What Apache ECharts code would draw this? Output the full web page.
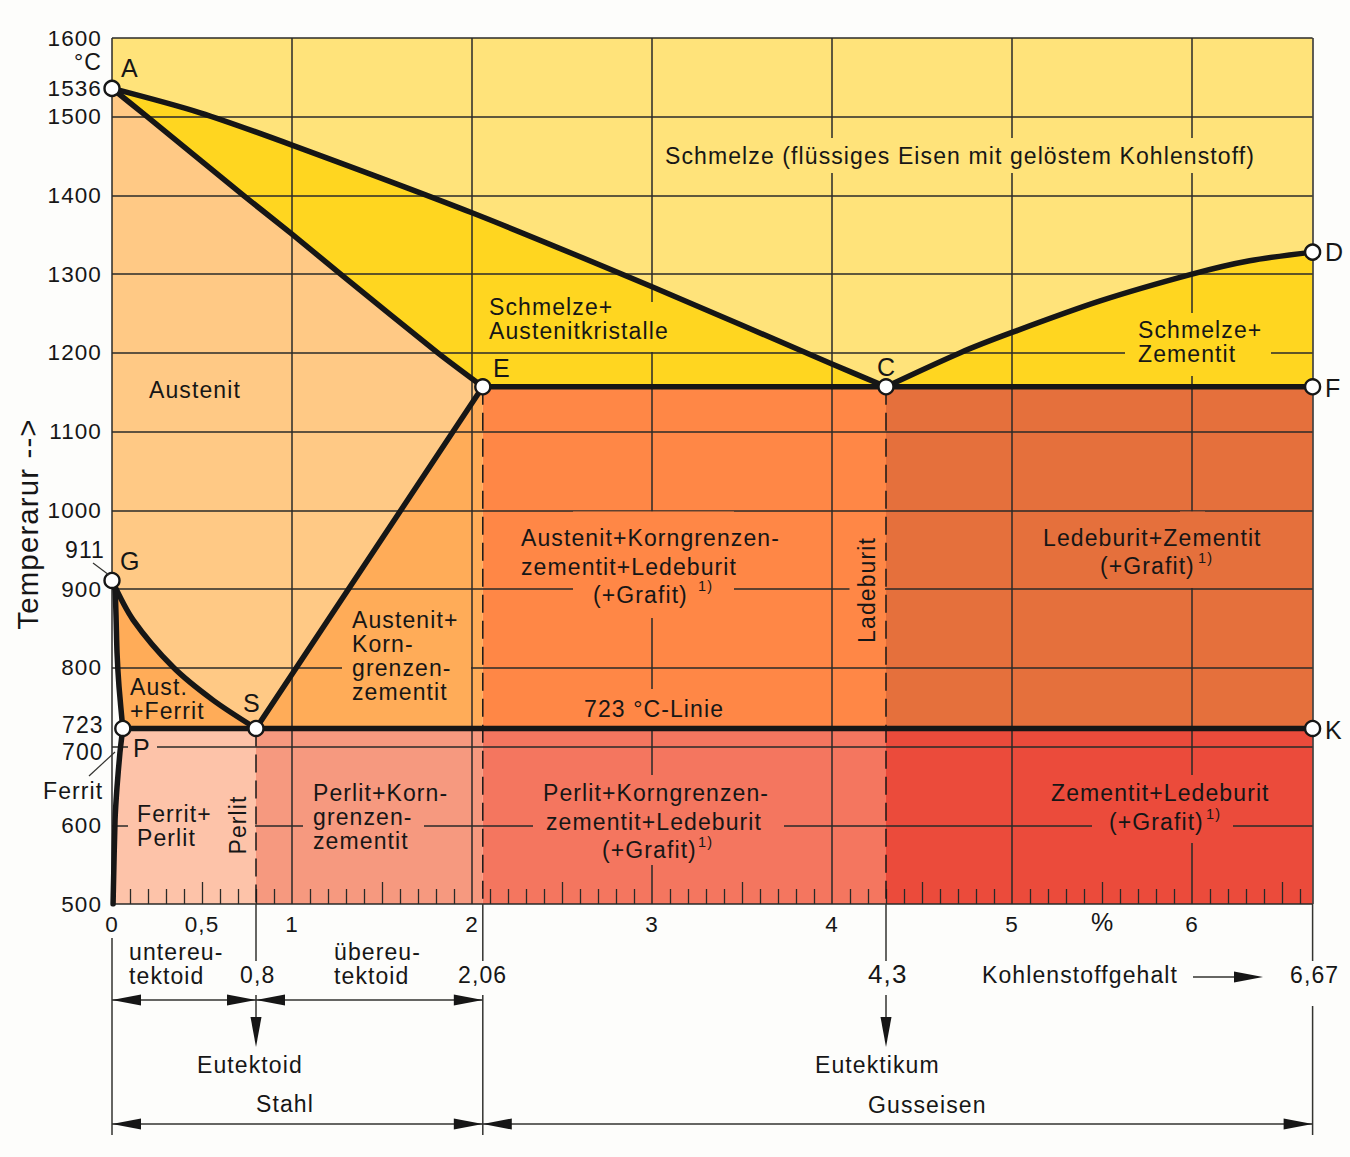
<!DOCTYPE html>
<html><head><meta charset="utf-8">
<style>
html,body{margin:0;padding:0;background:#FDFDFB}
#c{width:1350px;height:1157px}
#c text{letter-spacing:1.1px}
</style>
<script src="https://cdn.jsdelivr.net/npm/echarts@6/dist/echarts.min.js"></script>
</head><body><div id="c"></div>
<script>
// ---------- tick labels ----------
const tempLabels = [1600,1536,1500,1400,1300,1200,1100,1000,900,800,600,500];
const carbonLabels = [0,0.5,1,2,3,4,5,6];
const shortTicks = [0.1,0.2,0.3,0.4,0.6,0.7,0.8,0.9,1.1,1.2,1.3,1.4,1.6,1.7,1.8,1.9,2.1,2.2,2.3,2.4,2.6,2.7,2.8,2.9,3.1,3.2,3.3,3.4,3.6,3.7,3.8,3.9,4.1,4.2,4.3,4.4,4.6,4.7,4.8,4.9,5.1,5.2,5.3,5.4,5.6,5.7,5.8,5.9,6.1,6.2,6.3,6.4,6.6];
const longTicks = [0.5,1.5,2.5,3.5,4.5,5.5,6.5];

// ---------- phase boundaries: [carbon %, temperature °C] ----------
const A=[0,1536], C=[4.3,1157], D=[6.67,1328], E=[2.06,1157], F=[6.67,1157],
      G=[0,911], K=[6.67,723], P=[0.06,723], S=[0.8,723];
const curveAC=[A,[0.49,1505],[1,1464],[2,1378],[3,1284],[4,1186],C];
const curveAE=[A,[0.19,1501],[0.73,1400],[1,1351],[1.27,1300],[1.81,1200],E];
const curveCD=[C,[4.71,1200],[5,1226],[5.49,1266],[6,1300],[6.32,1317],D];
const curveGS=[G,[0.117,861],[0.339,801],[0.561,759],S];
const curveGP=[G,[0.017,899],[0.028,819],[0.039,776],P];
const curvePQ=[P,[0.044,692],[0.028,649],[0.017,607],[0.008,522],[0.006,500]];
const lineES=[E,S], lineEF=[E,F], linePK=[P,K];
const dashedLines=[[[0.8,723],[0.8,500]],[[2.06,1157],[2.06,500]],[[4.3,1157],[4.3,500]]];
const pointNames=['A','C','D','E','F','G','K','P','S'];
const pointValues=[A,C,D,E,F,G,K,P,S];

// ---------- phase regions ----------
const rev=a=>a.slice().reverse();
const regionNames=['Schmelze','Schmelze+Austenit','Schmelze+Zementit','Austenit','Austenit+Korn','Aust+Ferrit','Aust+Korn+Led','Led+Zem','Ferrit+Perlit','Perlit+Korn','Perlit+Korn+Led','Zem+Led'];
const regionShapes=[
 [[0,1600],[6.67,1600],D,...rev(curveCD),...rev(curveAC)],
 [...curveAC,E,...rev(curveAE)],
 [...curveCD,F],
 [...curveAE,S,...rev(curveGS),A],
 [E,[2.06,723],S],
 [...curveGS,...rev(curveGP)],
 [E,C,[4.3,723],[2.06,723]],
 [C,F,K,[4.3,723]],
 [P,S,[0.8,500],...rev(curvePQ)],
 [S,[2.06,723],[2.06,500],[0.8,500]],
 [[2.06,723],[4.3,723],[4.3,500],[2.06,500]],
 [[4.3,723],K,[6.67,500],[4.3,500]]
];
const regionColors=['#FFE37A','#FFD620','#FFD620','#FFC985','#FFAC58','#FFAC58','#FF8746','#E5703C','#FDC3A9','#F6997F','#F4765F','#EB4B3B'];
const colorOf=n=>regionColors[regionNames.indexOf(n)];

// ---------- grid-line gaps (pixel layout) ----------
const gaps=[
 [665,138,1253,173,'Schmelze'],
 [640,302,665,352,'Schmelze+Austenit'],
 [1125,313,1271,376,'Schmelze+Zementit'],
 [573,511.5,734,618,'Aust+Korn+Led'],
 [640,689,665,726,'Aust+Korn+Led'],
 [849.5,575,885,620,'Aust+Korn+Led'],
 [342,640,471,680,'Austenit+Korn'],
 [303,815,424,837,'Perlit+Korn'],
 [533,775,784,865,'Perlit+Korn+Led'],
 [1092,775,1233,843,'Zem+Led'],
 [128,800,255,850,'Ferrit+Perlit'],
 [128,735,157,757,'Ferrit+Perlit'],
 [1180,511.5,1205,588,'Led+Zem']
];

// ---------- texts (pixel layout) ----------
const F0=23;
const texts=[
 ['Schmelze (flüssiges Eisen mit gelöstem Kohlenstoff)',665,156],
 ['Schmelze+',489,307],['Austenitkristalle',489,331],
 ['Schmelze+',1138,329.5],['Zementit',1138,353.5],
 ['Austenit',149,390],
 ['Austenit+Korngrenzen-',521,538],['zementit+Ledeburit',521,567],['(+Grafit)',593,595],
 ['Ledeburit+Zementit',1043,538],['(+Grafit)',1100,566],
 ['Austenit+',352,619.5],['Korn-',352,643.5],['grenzen-',352,667.5],['zementit',352,691.5],
 ['Aust.',130,687],['+Ferrit',130,711],
 ['723 °C-Linie',584,709],
 ['Perlit+Korn-',313,793],['grenzen-',313,817],['zementit',313,841],
 ['Ferrit+',137,814],['Perlit',137,838],
 ['Perlit+Korngrenzen-',543,793],['zementit+Ledeburit',546,822],['(+Grafit)',602,850],
 ['Zementit+Ledeburit',1051,793],['(+Grafit)',1109,822],
 ['Ferrit',43,791],
 ['untereu-',129,951.5],['tektoid',129,975.5],['0,8',240,975],
 ['übereu-',334,951.5],['tektoid',334,975.5],['2,06',458,975],
 ['Kohlenstoffgehalt',982,975],['6,67',1290,975],
 ['Eutektoid',197,1065],['Eutektikum',815,1065],['Stahl',256,1104],['Gusseisen',868,1105],
 ['911',65,550],['723',62,725],['700',62,752],
];
const bigTexts=[['4,3',868,974,26],['%',1091,922,25],
 ['A',121,68,25],['G',120,561,25],['E',493,368,25],['S',243,703,25],['P',133,748,25],['C',877,367,25],['D',1325,252,25],['F',1325,388,25],['K',1325,730,25]];
const supers=[[698,586],[1198,558],[698,842],[1206,814]];
const rotated=[['Ladeburit',867,590,23],['Perlit',238,825,23],['Temperarur -->',27,524,29.5]];

// ---------- annotation lines below the axis ----------
const dropLines=[[0,938,1135],[0.8,904,961],[0.8,995,1018],[2.06,904,961],[2.06,995,1135],[4.3,904,961],[4.3,995,1018],[6.67,904,961],[6.67,1006,1135]];
const dropArrows=[0.8,4.3];
const spanArrows=[[0,0.8,1000],[0.8,2.06,1000],[0,2.06,1124],[2.06,6.67,1124]];

const INK='#161616', GRID='#2a2a28', LINE='#333330', FONT='"Liberation Sans"';
const chart=echarts.init(document.getElementById('c'),null,{renderer:'svg',width:1350,height:1157});

const tri=(pts,fill)=>({type:'polygon',shape:{points:pts},style:{fill:fill||INK}});
const seg=(x1,y1,x2,y2,w)=>({type:'line',shape:{x1,y1,x2,y2},style:{stroke:LINE,lineWidth:w||1.5}});
const txt=(t,x,y,size)=>({type:'text',x,y,style:{text:t,font:`${size||F0}px ${FONT}`,fill:INK,verticalAlign:'middle',align:'left'}});
const curveSeries=(data,name,smooth)=>({type:'line',name,data,symbol:'none',smooth:smooth||false,z:5,silent:true,animation:false,
  lineStyle:{color:INK,width:5.5,cap:'round',join:'round'}});
const tickAxis=(values,length)=>({type:'value',min:0,max:6.67,interval:1,z:2,position:'bottom',
   axisLine:{show:false},splitLine:{show:false},axisLabel:{show:false},
   axisTick:{show:true,inside:true,length,customValues:values,lineStyle:{color:GRID,width:1.3}}});

const option={
 animation:false,backgroundColor:'#FDFDFB',tooltip:{show:false},
 grid:{left:112,top:38,width:1200.6,height:866,containLabel:false},
 xAxis:[{type:'value',min:0,max:6.67,interval:1,z:2,position:'bottom',
   axisLine:{show:false},axisTick:{show:false},
   splitLine:{show:true,lineStyle:{color:GRID,width:1.5}},
   axisLabel:{customValues:carbonLabels,margin:9,color:INK,fontSize:22.5,fontFamily:'Liberation Sans',formatter:v=>String(v).replace('.',',')}},
   tickAxis(shortTicks,15),tickAxis(longTicks,22)],
 yAxis:{type:'value',min:500,max:1600,interval:100,z:2,
   axisLine:{show:false},axisTick:{show:false},
   splitLine:{show:true,lineStyle:{color:GRID,width:1.5}},
   axisLabel:{customValues:tempLabels,margin:10,color:INK,fontSize:22.5,fontFamily:'Liberation Sans',formatter:v=>String(v)}},
 series:[
  {type:'custom',name:'regions',z:1,silent:true,data:regionNames.map((n,i)=>[i]),
   renderItem:(p,api)=>({type:'polygon',shape:{points:regionShapes[p.dataIndex].map(q=>api.coord(q))},style:{fill:regionColors[p.dataIndex]}})},
  {type:'custom',name:'gaps',z:3,silent:true,data:gaps.map((g,i)=>[i]),
   renderItem:(p)=>{const g=gaps[p.dataIndex];return {type:'rect',shape:{x:g[0],y:g[1],width:g[2]-g[0],height:g[3]-g[1]},style:{fill:colorOf(g[4])}};}},
  ...dashedLines.map(d=>({type:'line',data:d,symbol:'none',z:4,silent:true,lineStyle:{color:INK,width:1.5,type:[18,8]}})),
  curveSeries(curveAC,'AC',0.3),curveSeries(curveAE,'AE',0.2),curveSeries(curveCD,'CD',0.3),curveSeries(curveGS,'GS',0.3),
  curveSeries(curveGP,'GP',0.2),curveSeries(curvePQ,'PQ',0.2),curveSeries(lineES,'ES'),curveSeries(lineEF,'EF'),curveSeries(linePK,'PK'),
  {type:'scatter',name:'points',z:6,silent:true,symbol:'circle',symbolSize:15,data:pointValues,
   itemStyle:{color:'#fff',borderColor:INK,borderWidth:2.4,opacity:1}},
  {type:'custom',name:'annotations',z:7,silent:true,data:[[0]],renderItem:(p,api)=>{
    const X=v=>api.coord([v,500])[0];
    const ch=[];
    dropLines.forEach(d=>ch.push(seg(X(d[0]),d[1],X(d[0]),d[2])));
    dropArrows.forEach(v=>{const x=X(v);ch.push(tri([[x-5.5,1017],[x+5.5,1017],[x,1047]]));});
    spanArrows.forEach(s=>{const a=X(s[0]),b=X(s[1]),y=s[2];
      ch.push(seg(a,y,b,y));
      ch.push(tri([[a,y],[a+29,y-5.5],[a+29,y+5.5]]));
      ch.push(tri([[b,y],[b-29,y-5.5],[b-29,y+5.5]]));});
    ch.push(seg(1193,977,1240,977));ch.push(tri([[1263,977],[1234,971.5],[1234,982.5]]));
    ch.push(seg(93,563,109,575,1.2));ch.push(seg(89,776,115,752,1.2));
    return {type:'group',children:ch};
  }},
  {type:'custom',name:'texts',z:8,silent:true,data:[[0]],renderItem:()=>{
    const ch=[];
    texts.forEach(t=>ch.push(txt(t[0],t[1],t[2])));
    bigTexts.forEach(t=>ch.push(txt(t[0],t[1],t[2],t[3])));
    supers.forEach(s=>ch.push(txt('1)',s[0],s[1],14.5)));
    ch.push(txt('°C',74,62,23));
    rotated.forEach(r=>ch.push({type:'text',x:r[1],y:r[2],rotation:Math.PI/2,
      style:{text:r[0],font:`${r[3]}px ${FONT}`,fill:INK,align:'center',verticalAlign:'middle'}}));
    return {type:'group',children:ch};
  }}
 ]
};
chart.setOption(option);
</script></body></html>
